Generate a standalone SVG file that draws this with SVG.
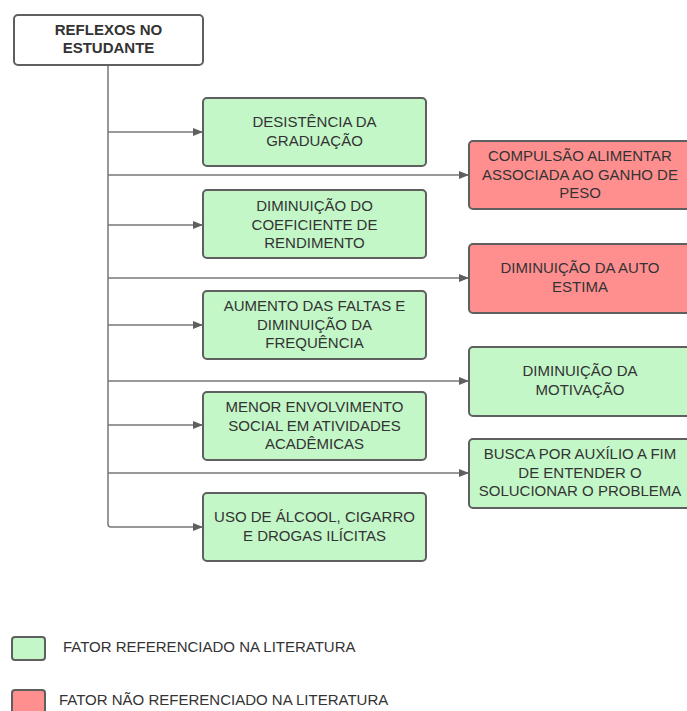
<svg xmlns="http://www.w3.org/2000/svg" width="687" height="711" viewBox="0 0 687 711">
<style>
.box{stroke:#5f5f5f;stroke-width:2}
.g{fill:#c3f7c8}
.r{fill:#ff8f8f}
.w{fill:#ffffff}
text{font-family:"Liberation Sans",Arial,sans-serif;font-size:15px;fill:#333333;text-anchor:middle}
.b{font-weight:bold}
.lg{text-anchor:start}
.c{fill:none;stroke:#777777;stroke-width:1.5}
</style>
<defs>
<marker id="ah" markerWidth="10" markerHeight="8" refX="9" refY="4" orient="auto" markerUnits="userSpaceOnUse">
<path d="M0,0 L10,4 L0,8 Z" fill="#5f5f5f"/>
</marker>
</defs>
<g id="connectors">
<path class="c" d="M108 65 V524 Q108 527 111 527 H202" marker-end="url(#ah)"/>
<path class="c" d="M108 132 H202" marker-end="url(#ah)"/>
<path class="c" d="M108 175 H468" marker-end="url(#ah)"/>
<path class="c" d="M108 225 H202" marker-end="url(#ah)"/>
<path class="c" d="M108 278 H468" marker-end="url(#ah)"/>
<path class="c" d="M108 325 H202" marker-end="url(#ah)"/>
<path class="c" d="M108 381 H468" marker-end="url(#ah)"/>
<path class="c" d="M108 425 H202" marker-end="url(#ah)"/>
<path class="c" d="M108 473 H468" marker-end="url(#ah)"/>
</g>
<g id="n-title">
<rect class="box w" x="14" y="15" width="189" height="50" rx="4"/>
<text class="b" x="108.5" y="35">REFLEXOS NO</text>
<text class="b" x="108.5" y="53">ESTUDANTE</text>
</g>
<g id="n-desistencia">
<rect class="box g" x="203" y="98" width="223" height="68" rx="4"/>
<text x="314.5" y="127">DESISTÊNCIA DA</text>
<text x="314.5" y="145.5">GRADUAÇÃO</text>
</g>
<g id="n-coeficiente">
<rect class="box g" x="203" y="190" width="223" height="68" rx="4"/>
<text x="314.5" y="211">DIMINUIÇÃO DO</text>
<text x="314.5" y="229.5">COEFICIENTE DE</text>
<text x="314.5" y="248">RENDIMENTO</text>
</g>
<g id="n-faltas">
<rect class="box g" x="203" y="291" width="223" height="68" rx="4"/>
<text x="314.5" y="311">AUMENTO DAS FALTAS E</text>
<text x="314.5" y="329.5">DIMINUIÇÃO DA</text>
<text x="314.5" y="348">FREQUÊNCIA</text>
</g>
<g id="n-social">
<rect class="box g" x="203" y="392" width="223" height="68" rx="4"/>
<text x="314.5" y="412">MENOR ENVOLVIMENTO</text>
<text x="314.5" y="430.5">SOCIAL EM ATIVIDADES</text>
<text x="314.5" y="449">ACADÊMICAS</text>
</g>
<g id="n-alcool">
<rect class="box g" x="203" y="493" width="223" height="68" rx="4"/>
<text x="314.5" y="522">USO DE ÁLCOOL, CIGARRO</text>
<text x="314.5" y="540.5">E DROGAS ILÍCITAS</text>
</g>
<g id="n-compulsao">
<rect class="box r" x="469" y="141" width="224" height="68" rx="4"/>
<text x="580" y="161">COMPULSÃO ALIMENTAR</text>
<text x="580" y="179.5">ASSOCIADA AO GANHO DE</text>
<text x="580" y="198">PESO</text>
</g>
<g id="n-autoestima">
<rect class="box r" x="469" y="244" width="224" height="69" rx="4"/>
<text x="580" y="273">DIMINUIÇÃO DA AUTO</text>
<text x="580" y="291.5">ESTIMA</text>
</g>
<g id="n-motivacao">
<rect class="box g" x="469" y="347" width="224" height="69" rx="4"/>
<text x="580" y="376">DIMINUIÇÃO DA</text>
<text x="580" y="394.5">MOTIVAÇÃO</text>
</g>
<g id="n-busca">
<rect class="box g" x="469" y="439" width="224" height="69" rx="4"/>
<text x="580" y="459">BUSCA POR AUXÍLIO A FIM</text>
<text x="580" y="477.5">DE ENTENDER O</text>
<text x="580" y="496">SOLUCIONAR O PROBLEMA</text>
</g>
<g id="legend">
<rect class="box g" x="12" y="637" width="33" height="23" rx="3"/>
<text class="lg" x="63" y="652">FATOR REFERENCIADO NA LITERATURA</text>
<rect class="box r" x="12" y="690" width="33" height="23" rx="3"/>
<text class="lg" x="59" y="705">FATOR NÃO REFERENCIADO NA LITERATURA</text>
</g>
</svg>
